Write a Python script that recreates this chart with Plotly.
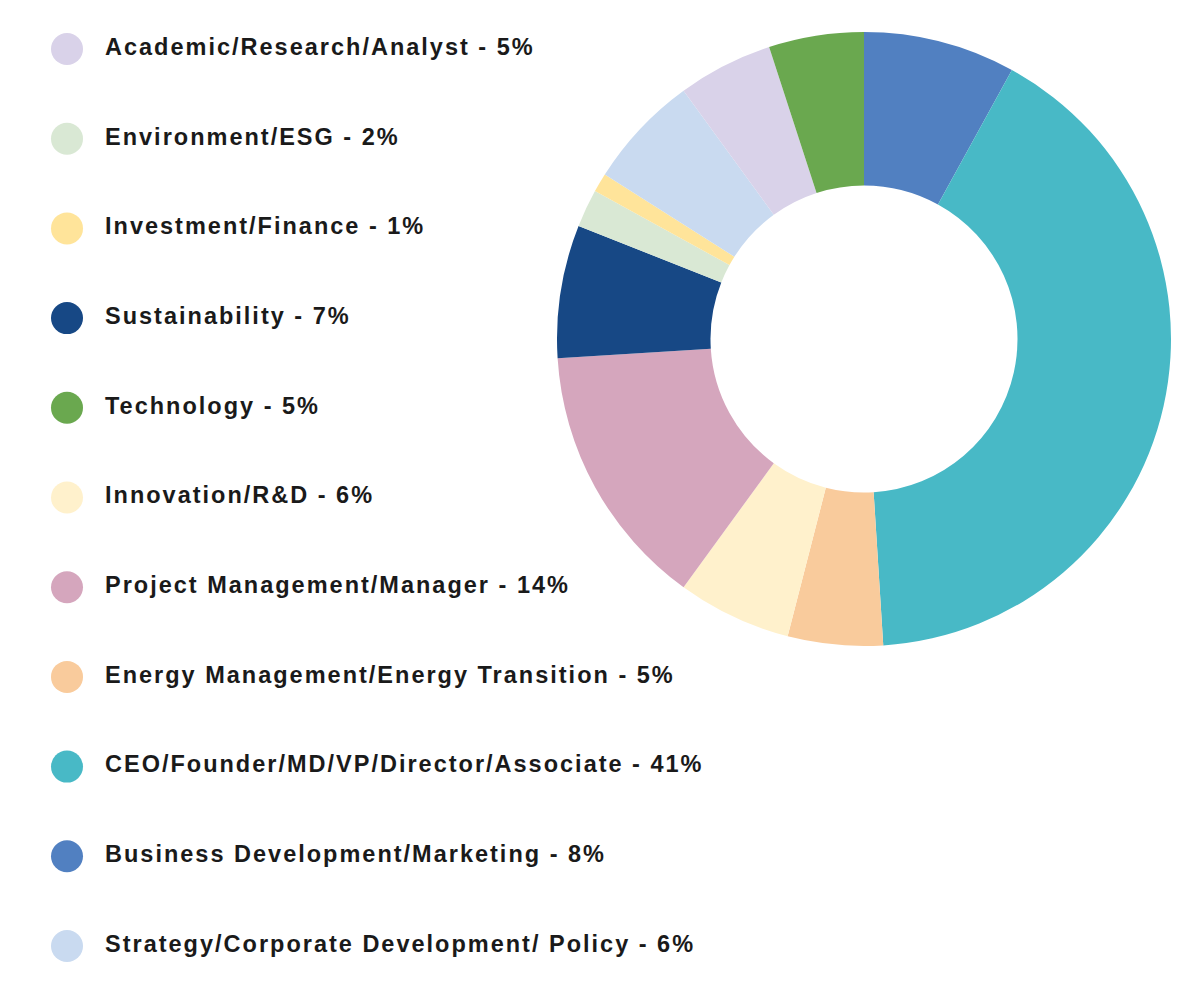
import plotly.graph_objects as go

# Legend (display) order
legend_labels = [
    "Academic/Research/Analyst", "Environment/ESG", "Investment/Finance",
    "Sustainability", "Technology", "Innovation/R&D",
    "Project Management/Manager", "Energy Management/Energy Transition",
    "CEO/Founder/MD/VP/Director/Associate", "Business Development/Marketing",
    "Strategy/Corporate Development/ Policy",
]
legend_values = [5, 2, 1, 7, 5, 6, 14, 5, 41, 8, 6]
legend_colors = [
    "#D9D2E9", "#D9E8D4", "#FFE49A", "#174885", "#6AA84F", "#FFF1CC",
    "#D5A6BD", "#F9CB9C", "#48B9C6", "#5180C1", "#C9DAF0",
]

# Slice order (clockwise from 12 o'clock)
slice_order = [
    "Business Development/Marketing", "CEO/Founder/MD/VP/Director/Associate",
    "Energy Management/Energy Transition", "Innovation/R&D",
    "Project Management/Manager", "Sustainability", "Environment/ESG",
    "Investment/Finance", "Strategy/Corporate Development/ Policy",
    "Academic/Research/Analyst", "Technology",
]

lookup_v = dict(zip(legend_labels, legend_values))
lookup_c = dict(zip(legend_labels, legend_colors))
pie_values = [lookup_v[k] for k in slice_order]
pie_colors = [lookup_c[k] for k in slice_order]

W, H = 1204, 981
# page body margin compensation (8px)
cx, cy, R = 856, 331, 307

fig = go.Figure()
fig.add_trace(go.Pie(
    labels=slice_order, values=pie_values, sort=False, direction="clockwise",
    rotation=0, hole=0.5, textinfo="none", hoverinfo="label+percent",
    marker=dict(colors=pie_colors, line=dict(width=0)),
    domain=dict(x=[(cx - R) / W, (cx + R) / W], y=[1 - (cy + R) / H, 1 - (cy - R) / H]),
    showlegend=False,
))

idx = list(range(len(legend_labels)))
texts = [f"{l} - {v}%" for l, v in zip(legend_labels, legend_values)]

fig.add_trace(go.Scatter(
    x=[0] * len(idx), y=idx, mode="markers",
    marker=dict(size=32, color=legend_colors, line=dict(width=0)),
    hoverinfo="skip", showlegend=False,
))
fig.add_trace(go.Scatter(
    x=[38] * len(idx), y=idx, mode="text", text=texts,
    textposition="middle right",
    textfont=dict(family="Liberation Sans, Arial, sans-serif", size=23.5, color="#1a1a1a", weight="bold"),
    hoverinfo="skip", showlegend=False,
))

left_px, top_px, step = 59, 41, 89.7
fig.update_layout(
    width=W, height=H, margin=dict(l=0, r=0, t=0, b=0),
    paper_bgcolor="white", plot_bgcolor="rgba(0,0,0,0)",
    xaxis=dict(range=[-left_px, W - left_px], visible=False, fixedrange=True, domain=[0, 1]),
    yaxis=dict(range=[(H - top_px) / step, -top_px / step], visible=False, fixedrange=True, domain=[0, 1]),
)

post = """
document.querySelectorAll('.scatterlayer .textpoint text').forEach(function(t){
  t.setAttribute('letter-spacing', '2px');
});
"""
fig.write_html("out.html", post_script=post)
